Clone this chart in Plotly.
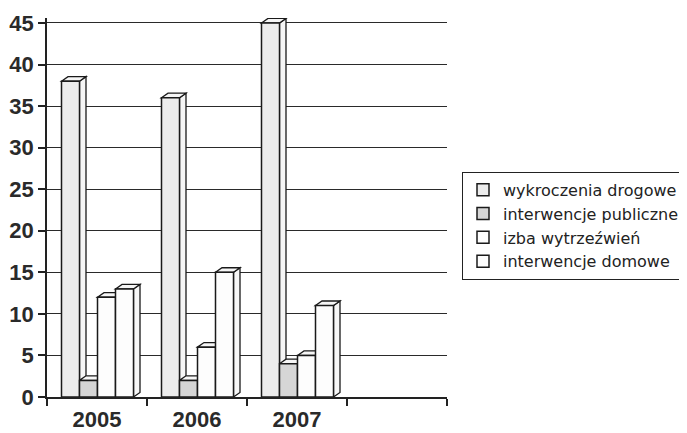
import plotly.graph_objects as go

years = ["2005", "2006", "2007"]
series_names = ["wykroczenia drogowe", "interwencje publiczne", "izba wytrzeźwień", "interwencje domowe"]
wykroczenia_drogowe = [38, 36, 45]
interwencje_publiczne = [2, 2, 4]
izba_wytrzezwien = [12, 6, 5]
interwencje_domowe = [13, 15, 11]
y_ticks = [0, 5, 10, 15, 20, 25, 30, 35, 40, 45]

series_values = [wykroczenia_drogowe, interwencje_publiczne, izba_wytrzezwien, interwencje_domowe]
front_colors = ["#ececec", "#d6d6d6", "#fdfdfd", "#fdfdfd"]
side_color = "#f6f6f6"

bar_w = 0.18
offsets = [-0.355, -0.175, 0.005, 0.185]
dx, dy = 0.065, 0.55
xpos = list(range(len(years)))

fig = go.Figure()
shapes = []
for name, vals, col, off in zip(series_names, series_values, front_colors, offsets):
    fig.add_trace(go.Bar(
        x=xpos, y=vals, name=name, width=bar_w, offset=off,
        marker=dict(color=col, line=dict(color="#1a1a1a", width=1.5)),
    ))
    for xi, v in zip(xpos, vals):
        x0 = xi + off
        x1 = x0 + bar_w
        top = f"M {x0},{v} L {x0+dx},{v+dy} L {x1+dx},{v+dy} L {x1},{v} Z"
        side = f"M {x1},0 L {x1+dx},{dy} L {x1+dx},{v+dy} L {x1},{v} Z"
        for p in (side, top):
            shapes.append(dict(type="path", path=p, xref="x", yref="y", layer="between",
                               fillcolor=side_color, line=dict(color="#1a1a1a", width=1.3)))

# page body has an 8px margin, so the figure is sized to fill the remaining window
fig.update_layout(
    width=679, height=425,
    margin=dict(l=39, r=240, t=10, b=36, autoexpand=False),
    paper_bgcolor="white", plot_bgcolor="white",
    barmode="overlay",
    shapes=shapes,
    font=dict(family="Liberation Sans, Arial, sans-serif", color="#222"),
    xaxis=dict(
        range=[-0.5, 3.5], tickvals=xpos, ticktext=years, ticks="",
        automargin=False, ticklabelstandoff=2,
        showgrid=False, zeroline=False, showline=True, linecolor="#222", linewidth=1.5,
        tickfont=dict(size=22, family="Liberation Sans, Arial, sans-serif", color="#2a2a2a", weight="bold"),
        minor=dict(tickvals=[-0.5, 0.5, 1.5, 2.5, 3.5], ticks="outside", ticklen=7,
                   tickcolor="#222", tickwidth=1.5, showgrid=False),
    ),
    yaxis=dict(
        range=[0, 45.6], tickvals=y_ticks, ticks="outside", ticklen=7,
        tickcolor="#222", tickwidth=1.5, automargin=False,
        showgrid=True, gridcolor="#2a2a2a", gridwidth=1.3,
        zeroline=False, showline=True, linecolor="#222", linewidth=1.5,
        tickfont=dict(size=22, family="Liberation Sans, Arial, sans-serif", color="#2a2a2a", weight="bold"),
    ),
    legend=dict(
        x=1.0375, xanchor="left", y=0.594, yanchor="top",
        bordercolor="#222", borderwidth=1, bgcolor="white",
        font=dict(size=16, family="DejaVu Sans, sans-serif", color="#222"),
        traceorder="normal", tracegroupgap=0,
    ),
)

fig.write_html("out.html")
